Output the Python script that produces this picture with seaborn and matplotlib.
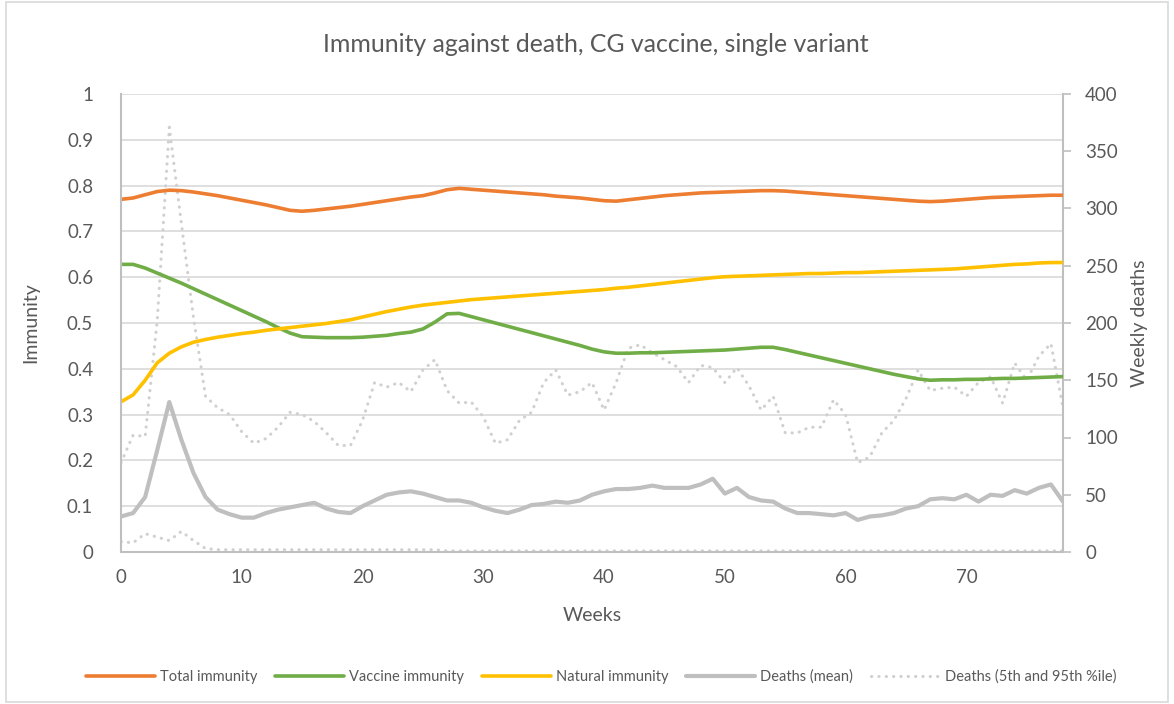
import matplotlib
matplotlib.use("Agg")
import matplotlib.pyplot as plt
import seaborn as sns
import pandas as pd
import numpy as np
from matplotlib.lines import Line2D
from matplotlib.patches import Rectangle

weeks = list(range(79))

total_immunity = [
    0.770, 0.773, 0.780, 0.787, 0.790, 0.789, 0.786, 0.782, 0.778, 0.773,
    0.768, 0.763, 0.758, 0.752, 0.746, 0.744, 0.746, 0.749, 0.752, 0.755,
    0.759, 0.763, 0.767, 0.771, 0.775, 0.778, 0.784, 0.791, 0.794, 0.792,
    0.790, 0.788, 0.786, 0.784, 0.782, 0.780, 0.777, 0.775, 0.773, 0.770,
    0.767, 0.766, 0.769, 0.772, 0.775, 0.778, 0.780, 0.782, 0.784, 0.785,
    0.786, 0.787, 0.788, 0.789, 0.789, 0.788, 0.786, 0.784, 0.782, 0.780,
    0.778, 0.776, 0.774, 0.772, 0.770, 0.768, 0.766, 0.765, 0.766, 0.768,
    0.770, 0.772, 0.774, 0.775, 0.776, 0.777, 0.778, 0.779, 0.779,
]

vaccine_immunity = [
    0.628, 0.628, 0.620, 0.609, 0.598, 0.587, 0.575, 0.563, 0.551, 0.539,
    0.527, 0.515, 0.503, 0.490, 0.478, 0.470, 0.469, 0.468, 0.468, 0.468,
    0.469, 0.471, 0.473, 0.477, 0.480, 0.487, 0.502, 0.520, 0.521, 0.514,
    0.507, 0.500, 0.493, 0.486, 0.479, 0.472, 0.465, 0.458, 0.451, 0.443,
    0.437, 0.434, 0.434, 0.435, 0.435, 0.436, 0.437, 0.438, 0.439, 0.440,
    0.441, 0.443, 0.445, 0.447, 0.447, 0.442, 0.436, 0.430, 0.424, 0.418,
    0.412, 0.406, 0.400, 0.394, 0.388, 0.383, 0.378, 0.375, 0.376, 0.376,
    0.377, 0.377, 0.378, 0.379, 0.379, 0.380, 0.381, 0.382, 0.383,
]

natural_immunity = [
    0.328, 0.343, 0.375, 0.413, 0.434, 0.448, 0.458, 0.464, 0.469, 0.473,
    0.477, 0.480, 0.484, 0.487, 0.490, 0.493, 0.496, 0.499, 0.503, 0.507,
    0.513, 0.519, 0.525, 0.530, 0.535, 0.539, 0.542, 0.545, 0.548, 0.551,
    0.553, 0.555, 0.557, 0.559, 0.561, 0.563, 0.565, 0.567, 0.569, 0.571,
    0.573, 0.576, 0.578, 0.581, 0.584, 0.587, 0.590, 0.593, 0.596, 0.599,
    0.601, 0.602, 0.603, 0.604, 0.605, 0.606, 0.607, 0.608, 0.608, 0.609,
    0.610, 0.610, 0.611, 0.612, 0.613, 0.614, 0.615, 0.616, 0.617, 0.618,
    0.620, 0.622, 0.624, 0.626, 0.628, 0.629, 0.631, 0.632, 0.632,
]

deaths_mean = [
    31, 34, 48, 89, 131, 98, 69, 48, 37, 33,
    30, 30, 34, 37, 39, 41, 43, 38, 35, 34,
    40, 45, 50, 52, 53, 51, 48, 45, 45, 43,
    39, 36, 34, 37, 41, 42, 44, 43, 45, 50,
    53, 55, 55, 56, 58, 56, 56, 56, 59, 64,
    51, 56, 48, 45, 44, 38, 34, 34, 33, 32,
    34, 28, 31, 32, 34, 38, 40, 46, 47, 46,
    50, 44, 50, 49, 54, 51, 56, 59, 44,
]

deaths_p95 = [
    78, 102, 101, 202, 371, 287, 205, 136, 126, 120,
    105, 95, 99, 109, 122, 120, 114, 104, 93, 93,
    115, 148, 144, 148, 140, 159, 168, 141, 130, 131,
    118, 95, 98, 115, 122, 148, 159, 137, 140, 148,
    124, 148, 178, 181, 174, 168, 162, 148, 163, 161,
    148, 161, 145, 124, 136, 104, 104, 109, 109, 133,
    120, 78, 83, 104, 115, 134, 159, 141, 143, 144,
    136, 148, 153, 130, 165, 150, 171, 182, 126,
]

deaths_p5 = [
    9, 8, 16, 13, 10, 18, 10, 3, 2, 2,
    2, 2, 2, 2, 2, 2, 2, 2, 2, 2,
    2, 2, 2, 2, 2, 2, 2, 1, 1, 1,
    1, 1, 1, 1, 1, 1, 1, 1, 1, 1,
    1, 1, 1, 1, 1, 1, 1, 1, 1, 1,
    1, 1, 1, 1, 1, 1, 1, 1, 1, 1,
    1, 1, 1, 1, 1, 1, 1, 1, 1, 1,
    1, 1, 1, 1, 1, 1, 1, 1, 1,
]

df = pd.DataFrame({
    "week": weeks,
    "total": total_immunity,
    "vaccine": vaccine_immunity,
    "natural": natural_immunity,
    "mean": deaths_mean,
    "p95": deaths_p95,
    "p5": deaths_p5,
})

sns.set_style("white")
plt.rcParams["font.family"] = ["Lato", "DejaVu Sans"]
text_col = "#595959"
grid_col = "#d9d9d9"
axis_col = "#bfbfbf"

c_total = "#ED7D31"
c_vacc = "#70AD47"
c_nat = "#FFC000"
c_mean = "#BFBFBF"
c_pct = "#D0D0D0"

fig = plt.figure(figsize=(11.74, 7.04), dpi=100)
ax = fig.add_axes([121 / 1174, 152 / 704, 942 / 1174, 458 / 704])
ax2 = ax.twinx()

# deaths on the right axis, drawn underneath the immunity lines
ax2.set_zorder(1)
ax.set_zorder(2)
ax.patch.set_visible(False)

dot_kw = dict(lw=2.2, linestyle=(0, (0.1, 2.3)), dash_capstyle="round", color=c_pct)
sns.lineplot(data=df, x="week", y="p95", ax=ax2, **dot_kw)
sns.lineplot(data=df, x="week", y="p5", ax=ax2, **dot_kw)
sns.lineplot(data=df, x="week", y="mean", ax=ax2, color=c_mean, lw=3.0)

sns.lineplot(data=df, x="week", y="total", ax=ax, color=c_total, lw=2.6)
sns.lineplot(data=df, x="week", y="vaccine", ax=ax, color=c_vacc, lw=2.6)
sns.lineplot(data=df, x="week", y="natural", ax=ax, color=c_nat, lw=2.6)

ax.set_xlim(0, 78)
ax.set_ylim(0, 1)
ax2.set_ylim(0, 400)
ax.set_xticks([0, 10, 20, 30, 40, 50, 60, 70])
ax.set_yticks(np.arange(0, 1.01, 0.1))
ax.set_yticklabels(["0", "0.1", "0.2", "0.3", "0.4", "0.5", "0.6", "0.7", "0.8", "0.9", "1"])
ax2.set_yticks(range(0, 401, 50))

for g in np.arange(0.1, 1.01, 0.1):
    ax2.axhline(g * 400, color=grid_col, lw=1.2, zorder=0)

for a in (ax, ax2):
    for s in a.spines.values():
        s.set_visible(False)
ax.spines["left"].set_visible(True)
ax.spines["bottom"].set_visible(True)
ax2.spines["right"].set_visible(True)
for s in (ax.spines["left"], ax.spines["bottom"], ax2.spines["right"]):
    s.set_color(axis_col)
    s.set_linewidth(1.5)

ax.tick_params(axis="both", length=0, labelsize=13.5, colors=text_col, pad=12)
ax.tick_params(axis="y", pad=20)
ax2.tick_params(axis="y", length=6, width=1.2, color=axis_col, labelsize=13.5,
                labelcolor=text_col, pad=10)

ax.set_xlabel("Weeks", fontsize=14, color=text_col)
ax.set_ylabel("Immunity", fontsize=14, color=text_col)
ax2.set_ylabel("Weekly deaths", fontsize=14, color=text_col)
ax.xaxis.set_label_coords(0.5, -0.120)
ax.yaxis.set_label_coords(-0.087, 0.5)
ax2.yaxis.set_label_coords(1.0722, 0.5)

fig.text(596 / 1174, 1 - 45 / 704, "Immunity against death, CG vaccine, single variant",
         ha="center", va="center", fontsize=17.9, color=text_col)

handles = [
    Line2D([], [], color=c_total, lw=2.6),
    Line2D([], [], color=c_vacc, lw=2.6),
    Line2D([], [], color=c_nat, lw=2.6),
    Line2D([], [], color=c_mean, lw=3.0),
    Line2D([], [], **dot_kw),
]
labels = ["Total immunity", "Vaccine immunity", "Natural immunity",
          "Deaths (mean)", "Deaths (5th and 95th %ile)"]
leg = fig.legend(handles, labels, loc="center", bbox_to_anchor=(601 / 1174, 1 - 677 / 704),
                 ncol=5, frameon=False, fontsize=10.5, handlelength=4.75,
                 columnspacing=1.2, handletextpad=0.35)
for t in leg.get_texts():
    t.set_color(text_col)

fig.add_artist(Rectangle((6 / 1174, 2 / 704), 1 - 12 / 1174, 1 - 4 / 704,
                         transform=fig.transFigure, fill=False,
                         edgecolor=grid_col, lw=1.2))

fig.savefig("out.png", dpi=100)
plt.close(fig)
